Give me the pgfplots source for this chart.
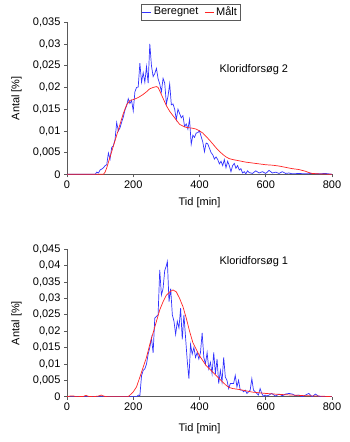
\documentclass[border=0pt]{standalone}
\usepackage{pgfplots}
\pgfplotsset{compat=1.18}
\usepackage{fontspec}
\setmainfont{Liberation Sans}
\definecolor{calc}{RGB}{50,50,255}
\definecolor{meas}{RGB}{255,35,35}
\definecolor{axgray}{RGB}{90,90,90}
\pgfplotsset{
  chart/.style={
    width=265pt, scale only axis,
    xmin=0, xmax=800, ymin=0,
    axis x line*=bottom, axis y line*=left,
    axis line style={-, axgray, line width=0.7pt},
    tick style={axgray, line width=0.7pt},
    tick align=outside, major tick length=3pt,
    xtick={0,200,400,600,800},
    scaled y ticks=false, scaled x ticks=false,
    font=\fontsize{11}{13}\selectfont,
    ticklabel style={font=\fontsize{11}{13}\selectfont},
    label style={font=\fontsize{11}{13}\selectfont},
    /pgf/number format/assume math mode=true,
    xlabel={Tid [min]}, ylabel={Antal [\%]},
    no marks,
    every axis plot/.append style={line width=0.7pt},
  }
}
\begin{document}
\begin{tikzpicture}
\path[use as bounding box] (0pt,0pt) rectangle (350pt,442pt);
% top: Kloridforsoeg 2
\begin{axis}[chart,
  at={(67pt,267.7pt)}, anchor=south west, height=152pt,
  ymax=0.035,
  ytick={0,0.005,0.01,0.015,0.02,0.025,0.03,0.035},
  yticklabels={0,{0,005},{0,01},{0,015},{0,02},{0,025},{0,03},{0,035}},
  xlabel style={at={(axis description cs:0.5,-0.187)}, anchor=center},
  ylabel style={at={(axis description cs:-0.19,0.5)}, anchor=center},
  legend columns=2,
  legend style={at={(rel axis cs:0.466,1.068)}, anchor=center, draw=axgray,
    inner sep=1pt, font=\fontsize{11}{13}\selectfont,
    /tikz/every even column/.append style={column sep=4pt}},
  legend image code/.code={\draw[#1] (0pt,0pt) -- (9pt,0pt);},
]
\addplot[calc] coordinates {
(0,0)(85,0)(90,0.0005)(95,0.0003)(100,0.001)(105,0.0012)(110,0.0015)(115,0.002)(120,0.0022)(125,0.0049)(130,0.0035)(135,0.0062)(140,0.0066)(145,0.008)(150,0.0119)(155,0.0100)(160,0.0107)(165,0.012)(170,0.0132)(175,0.0148)(180,0.0158)(185,0.0174)(190,0.0163)(195,0.0170)(200,0.0146)(205,0.0190)(210,0.0200)(215,0.0201)(220,0.0256)(225,0.0212)(230,0.0234)(235,0.0212)(240,0.0248)(245,0.0210)(250,0.0300)(255,0.0250)(260,0.0225)(265,0.0232)(270,0.0244)(275,0.0220)(280,0.0208)(285,0.0190)(290,0.0221)(295,0.0210)(300,0.0162)(305,0.0180)(310,0.0208)(315,0.0160)(320,0.0162)(325,0.0150)(330,0.0126)(335,0.0150)(340,0.0140)(345,0.0130)(350,0.0135)(355,0.0110)(360,0.0116)(365,0.0104)(370,0.0126)(375,0.0069)(380,0.0090)(385,0.0085)(390,0.0095)(395,0.0096)(400,0.0100)(405,0.0087)(410,0.0074)(415,0.0052)(420,0.0072)(425,0.0070)(430,0.0060)(435,0.0050)(440,0.0045)(445,0.0035)(450,0.0040)(455,0.0034)(460,0.0024)(465,0.0030)(470,0.0020)(475,0.0034)(480,0.0015)(485,0.0030)(490,0.0020)(495,0.0006)(500,0.0020)(505,0.0025)(510,0.0014)(515,0.0020)(520,0.0010)(525,0.0013)(530,0.0003)(535,0.0006)(540,0.0001)(545,0.0008)(550,0.0004)(560,0.0002)(570,0.0008)(580,0.0003)(590,0.0006)(600,0.0002)(610,0.0009)(620,0.0003)(630,0.0005)(640,0.0002)(650,0.0006)(660,0.0002)(670,0.0003)(680,0.0001)(700,0.0002)(720,0.0001)(740,0.0002)(760,0.0001)(780,0.0002)(800,0)
};
\addlegendentry{Beregnet}
\addplot[meas] coordinates {
(0,0)(110,0)(115,0.0005)(120,0.0015)(130,0.004)(140,0.0065)(150,0.009)(160,0.0115)(170,0.014)(180,0.016)(190,0.0170)(200,0.0172)(210,0.0175)(220,0.0179)(230,0.0184)(240,0.0190)(250,0.0197)(260,0.0200)(270,0.0202)(275,0.0200)(280,0.0192)(290,0.0175)(300,0.0158)(310,0.0145)(320,0.0135)(330,0.0125)(340,0.0115)(350,0.0111)(360,0.0108)(370,0.0107)(380,0.0106)(390,0.0104)(400,0.0100)(410,0.0095)(420,0.0087)(430,0.0079)(440,0.0070)(450,0.0061)(460,0.0053)(470,0.0046)(480,0.0040)(490,0.0036)(500,0.0034)(520,0.0031)(540,0.0028)(560,0.0026)(580,0.0024)(600,0.0022)(620,0.0021)(640,0.0019)(660,0.0016)(680,0.0013)(700,0.0011)(720,0.0007)(730,0.0004)(740,0.0002)(760,0.0001)(800,0)
};
\addlegendentry{Målt}
\node at (axis cs:564,0.0242) {Kloridforsøg 2};
\end{axis}
% bottom: Kloridforsoeg 1
\begin{axis}[chart,
  at={(67pt,45.3pt)}, anchor=south west, height=147.4pt,
  ymax=0.045,
  ytick={0,0.005,0.01,0.015,0.02,0.025,0.03,0.035,0.04,0.045},
  yticklabels={0,{0,005},{0,01},{0,015},{0,02},{0,025},{0,03},{0,035},{0,04},{0,045}},
  xlabel style={at={(axis description cs:0.5,-0.219)}, anchor=center},
  ylabel style={at={(axis description cs:-0.19,0.5)}, anchor=center},
]
\addplot[calc] coordinates {
(0,0)(210,0)(215,0.0005)(220,0.0003)(225,0.0064)(230,0.0080)(235,0.0085)(240,0.0100)(245,0.0130)(250,0.0150)(255,0.0180)(260,0.0134)(265,0.0240)(270,0.0245)(275,0.0250)(280,0.0387)(285,0.0310)(290,0.0330)(295,0.0385)(300,0.0400)(303,0.0413)(308,0.0290)(313,0.0330)(318,0.0250)(323,0.0230)(328,0.0190)(333,0.0230)(338,0.0210)(343,0.0270)(348,0.0175)(353,0.0250)(358,0.0180)(363,0.0110)(368,0.0055)(373,0.0160)(378,0.0130)(383,0.0150)(388,0.0120)(393,0.0135)(398,0.0115)(403,0.0135)(408,0.0195)(413,0.0120)(418,0.0100)(423,0.0135)(428,0.0085)(433,0.0105)(438,0.0070)(443,0.0135)(448,0.0070)(453,0.0115)(458,0.0040)(463,0.0080)(468,0.0045)(473,0.0120)(478,0.0060)(483,0.0050)(488,0.0025)(493,0.0040)(498,0.0040)(503,0.0040)(508,0.0065)(513,0.0030)(518,0.0050)(523,0.0020)(528,0.0020)(533,0.0015)(538,0.0020)(543,0.0010)(548,0.0015)(553,0.0020)(558,0.0055)(563,0.0020)(568,0.0015)(573,0.0010)(578,0.0005)(583,0.0025)(588,0.0010)(593,0.0001)(598,0.0005)(603,0.0002)(610,0.0005)(618,0.0010)(625,0.0005)(630,0.0002)(640,0.0008)(650,0.0003)(660,0.0008)(670,0.0010)(680,0.0008)(690,0.0003)(700,0.0005)(710,0)(730,0.0010)(740,0)(750,0.0008)(760,0.0001)(780,0)(800,0)
};
\addplot[meas] coordinates {
(0,0)(10,0.0002)(20,0.0002)(30,0)(50,0.0001)(57,0.0004)(65,0.0001)(80,0)(95,0.0002)(103,0.0005)(110,0.0002)(120,0)(185,0)(190,0.0005)(200,0.0015)(210,0.0030)(220,0.0060)(230,0.0090)(240,0.0120)(250,0.0160)(260,0.0195)(270,0.0230)(280,0.0265)(290,0.0290)(300,0.0310)(310,0.0320)(320,0.0326)(330,0.0320)(340,0.0300)(350,0.0275)(360,0.0240)(370,0.0200)(380,0.0165)(390,0.0145)(400,0.0125)(410,0.0110)(420,0.0095)(430,0.0085)(440,0.0075)(450,0.0065)(460,0.0055)(470,0.0045)(480,0.0035)(490,0.0028)(500,0.0025)(520,0.0022)(540,0.0018)(560,0.0014)(580,0.0012)(600,0.0010)(640,0.0007)(680,0.0005)(720,0.0003)(760,0.0002)(800,0)
};
\node at (axis cs:564,0.0412) {Kloridforsøg 1};
\end{axis}
\end{tikzpicture}
\end{document}
